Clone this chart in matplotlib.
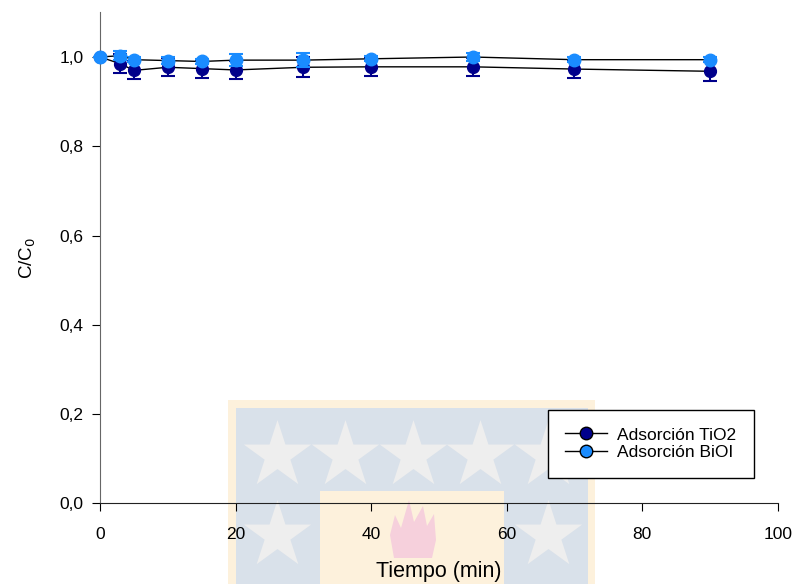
import numpy as np
import matplotlib
matplotlib.use("Agg")
import matplotlib.pyplot as plt
from matplotlib.patches import Rectangle, Polygon
from matplotlib.lines import Line2D
from matplotlib.ticker import FuncFormatter

plt.rcParams['font.family'] = ['Liberation Sans', 'DejaVu Sans']

tiempo = [0, 3, 5, 10, 15, 20, 30, 40, 55, 70, 90]
tio2 = [1.0, 0.985, 0.970, 0.977, 0.974, 0.971, 0.977, 0.978, 0.978, 0.973, 0.968]
tio2_err = [0.0, 0.021, 0.020, 0.020, 0.020, 0.020, 0.022, 0.020, 0.020, 0.019, 0.021]
bioi = [1.0, 1.003, 0.994, 0.992, 0.990, 0.993, 0.993, 0.996, 1.0, 0.994, 0.994]
bioi_err = [0.0, 0.010, 0.005, 0.008, 0.006, 0.013, 0.016, 0.006, 0.010, 0.005, 0.005]
labels = ['Adsorción TiO2', 'Adsorción BiOI']

c_dark = '#00008b'
c_light = '#1a8cff'

fig = plt.figure(figsize=(7.96, 5.84), dpi=100)

# watermark in the background (pixel coords)
bg = fig.add_axes([0, 0, 1, 1], zorder=0)
bg.set_xlim(0, 796)
bg.set_ylim(584, 0)
bg.axis('off')
bg.add_patch(Rectangle((228, 400), 367, 190, color='#fdf1dc', lw=0))
bg.add_patch(Rectangle((236, 408), 352, 190, color='#d9e1ea', lw=0))
bg.add_patch(Rectangle((320, 491), 184, 100, color='#fdf1dc', lw=0))
star_x = [277, 345, 413, 480, 548, 277, 548]
star_y = [455, 455, 455, 455, 455, 535, 535]
bg.scatter(star_x, star_y, marker='*', s=2600, color='#eeeeee', lw=0)
flame = [(394, 558), (390, 535), (395, 515), (401, 528), (409, 500), (414, 522),
         (423, 506), (427, 526), (434, 514), (436, 540), (432, 558)]
bg.add_patch(Polygon(flame, closed=True, color='#f6d0dc', lw=0))

ax = fig.add_axes([0.1256, 0.1382, 0.8514, 0.8406], zorder=1)
ax.set_facecolor('none')

ax.errorbar(tiempo, tio2, yerr=tio2_err, color='black', lw=1, marker='o', ms=8.5,
            mfc=c_dark, mec=c_dark, ecolor=c_dark, elinewidth=1.5, capsize=5, capthick=1.5,
            clip_on=False, zorder=3)
ax.errorbar(tiempo, bioi, yerr=bioi_err, color='black', lw=1, marker='o', ms=9,
            mfc=c_light, mec=c_light, ecolor=c_light, elinewidth=1.5, capsize=5, capthick=1.5,
            clip_on=False, zorder=4)

ax.set_xlim(0, 100)
ax.set_ylim(0, 1.1)
ax.set_xticks([0, 20, 40, 60, 80, 100])
ax.set_yticks([0.0, 0.2, 0.4, 0.6, 0.8, 1.0])
ax.yaxis.set_major_formatter(FuncFormatter(lambda v, p: ('%.1f' % v).replace('.', ',')))
ax.tick_params(direction='out', length=6, labelsize=12.5)
ax.tick_params(axis='x', pad=11)
ax.tick_params(axis='y', pad=6)
ax.spines['top'].set_visible(False)
ax.spines['right'].set_visible(False)
ax.spines['left'].set_color('#666666')
ax.spines['bottom'].set_color('#222222')

ax.set_xlabel('Tiempo (min)', fontsize=15.5, labelpad=14)
ax.set_ylabel('C/C$_0$', fontsize=13.5, labelpad=15)

handles = [Line2D([], [], color='black', lw=1, marker='o', ms=9, mfc=c_dark, mec='black'),
           Line2D([], [], color='black', lw=1, marker='o', ms=9, mfc=c_light, mec='black')]
leg = ax.legend(handles, labels, loc='upper left', bbox_to_anchor=(0.661, 0.19), fontsize=12.5,
                frameon=True, fancybox=False, edgecolor='black', framealpha=1,
                handlelength=2.4, borderpad=1.0, labelspacing=0.15, handletextpad=0.6,
                borderaxespad=0)
leg.get_frame().set_linewidth(1)

fig.savefig('out.png', dpi=100)
